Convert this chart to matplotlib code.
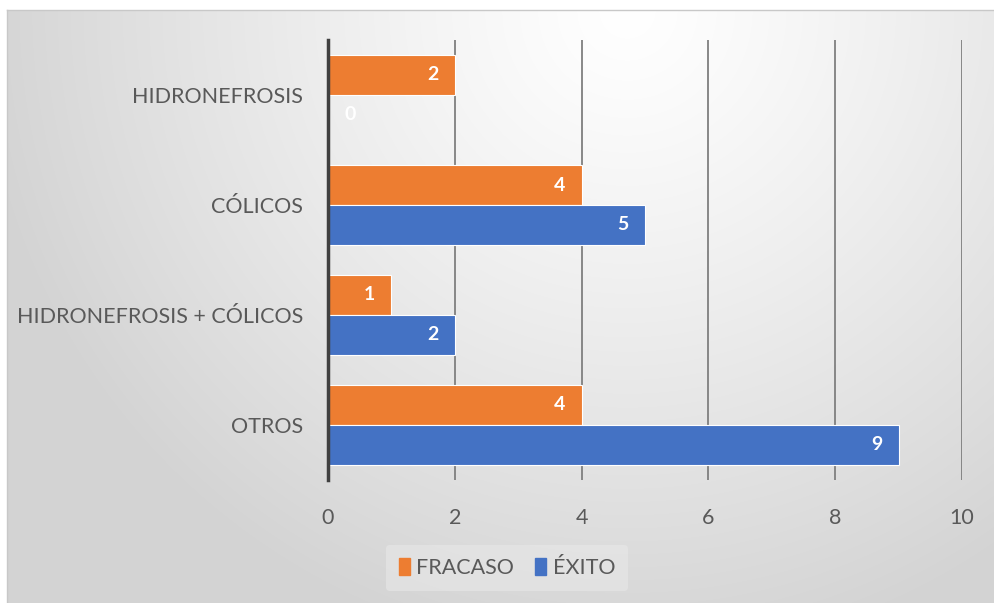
import numpy as np
import matplotlib
matplotlib.use('Agg')
import matplotlib.pyplot as plt
import matplotlib.patches as mpatches

# ---------------- datos ----------------
categorias = ['OTROS', 'HIDRONEFROSIS + CÓLICOS', 'CÓLICOS', 'HIDRONEFROSIS']
fracaso = [4, 1, 4, 2]
exito = [9, 2, 5, 0]
ticks_x = [0, 2, 4, 6, 8, 10]

naranja = '#ED7D31'
azul = '#4472C4'
gris_texto = '#595959'

plt.rcParams['font.family'] = ['Lato', 'DejaVu Sans']

fig = plt.figure(figsize=(9.94, 6.03), dpi=100)
fig.patch.set_facecolor('white')

# fondo degradado (radial, blanco arriba a la derecha, gris hacia los bordes)
x0 = 7 / 994
y1 = 1 - 10 / 603
bg = fig.add_axes([x0, 0, 1 - x0, y1], zorder=0)
H, W = 593, 987
yy, xx = np.mgrid[0:H, 0:W]
d = np.sqrt((xx - 620) ** 2 + (yy - 0) ** 2)
val = 1 - 0.17 * np.clip(d / 650, 0, 1) ** 1.2
img = np.dstack([val, val, val])
bg.imshow(img, aspect='auto', extent=[0, 1, 0, 1], origin='upper')
bg.set_axis_off()
fig.add_artist(plt.Line2D([x0, x0], [0, y1], color='#C8C8C8', lw=1))
fig.add_artist(plt.Line2D([x0, 1], [y1, y1], color='#C8C8C8', lw=1))

ax = fig.add_axes([328 / 994, 1 - 480 / 603, (962 - 328) / 994, 440 / 603], zorder=1)
ax.set_facecolor('none')

y = np.arange(len(categorias))
alto = 40 / 110
b1 = ax.barh(y + alto / 2, fracaso, height=alto, color=naranja, edgecolor='white', linewidth=0.8, label='FRACASO', zorder=3)
b2 = ax.barh(y - alto / 2, exito, height=alto, color=azul, edgecolor='white', linewidth=0.8, label='ÉXITO', zorder=3)

# etiquetas de valores
for barras, valores in [(b1, fracaso), (b2, exito)]:
    for rect, v in zip(barras, valores):
        yc = rect.get_y() + rect.get_height() / 2
        if v == 0:
            ax.annotate(str(v), (0, yc), xytext=(12, 0), textcoords='offset points',
                        ha='left', va='center', color='white', fontsize=14, fontweight='bold', zorder=4)
        else:
            ax.annotate(str(v), (v, yc), xytext=(-16, 0), textcoords='offset points',
                        ha='center', va='center', color='white', fontsize=14, fontweight='bold', zorder=4)

ax.set_xlim(0, 10)
ax.set_ylim(-0.5, len(categorias) - 0.5)
ax.set_xticks(ticks_x)
ax.set_yticks(y)
ax.set_yticklabels(categorias)
ax.grid(axis='x', color='#7F7F7F', linewidth=1.3, zorder=1)
ax.set_axisbelow(True)
for s in ['top', 'right', 'bottom']:
    ax.spines[s].set_visible(False)
ax.spines['left'].set_color('#404040')
ax.spines['left'].set_linewidth(2.5)
ax.spines['left'].set_zorder(5)
ax.tick_params(axis='both', length=0, labelsize=15.5, labelcolor=gris_texto)
ax.tick_params(axis='x', pad=20)
ax.tick_params(axis='y', pad=18)

leg = fig.legend(handles=[mpatches.Patch(color=naranja, label='FRACASO'),
                          mpatches.Patch(color=azul, label='ÉXITO')],
                 loc='center', bbox_to_anchor=(507 / 994, 1 - 568 / 603), ncol=2,
                 fontsize=15.5, frameon=True, handlelength=0.5, handleheight=0.8,
                 handletextpad=0.3, columnspacing=1.0, borderpad=0.6)
leg.get_frame().set_facecolor('#E8E8E8')
leg.get_frame().set_edgecolor('none')
leg.get_frame().set_alpha(0.6)
for t in leg.get_texts():
    t.set_color(gris_texto)

plt.savefig('out.png', dpi=100)
